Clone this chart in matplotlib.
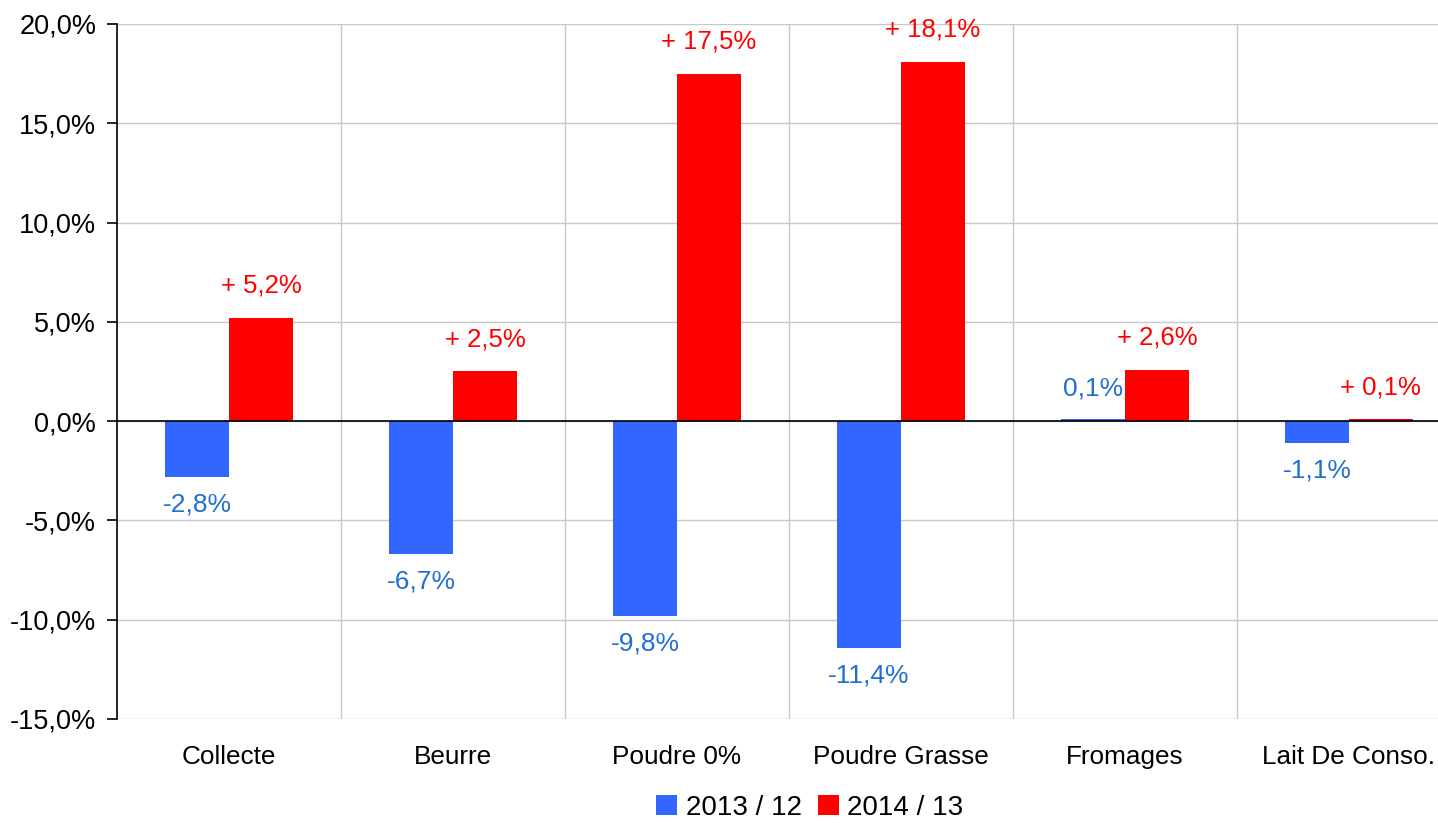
import numpy as np
import matplotlib
matplotlib.use('Agg')
from matplotlib import pyplot as plt
from matplotlib.ticker import FuncFormatter

plt.rcParams['font.family'] = ['Liberation Sans', 'DejaVu Sans']

# données
categories = ['Collecte', 'Beurre', 'Poudre 0%', 'Poudre Grasse', 'Fromages', 'Lait De Conso.']
serie_2013 = [-2.8, -6.7, -9.8, -11.4, 0.1, -1.1]
serie_2014 = [5.2, 2.5, 17.5, 18.1, 2.6, 0.1]
noms_series = ['2013 / 12', '2014 / 13']

bleu = '#3366FF'
rouge = '#FF0000'
bleu_txt = '#1F70D0'

fig = plt.figure(figsize=(14.38, 8.23), dpi=100)
ax = fig.add_axes([117 / 1438, 1 - 719 / 823, 1344 / 1438, 695 / 823])

x = np.arange(len(categories))
w = 0.285
b1 = ax.bar(x - w / 2, serie_2013, w, color=bleu, label=noms_series[0], zorder=3)
b2 = ax.bar(x + w / 2, serie_2014, w, color=rouge, label=noms_series[1], zorder=3)

def fmt(v):
    return ('%.1f' % v).replace('.', ',') + '%'

for xi, v in zip(x - w / 2, serie_2013):
    off = 22 if v >= 0 else -20
    ax.annotate(fmt(v), (xi, v), xytext=(0, off), textcoords='offset points',
                ha='center', va='center', color=bleu_txt, fontsize=19)
for xi, v in zip(x + w / 2, serie_2014):
    ax.annotate('+ ' + fmt(v), (xi, v), xytext=(0, 23), textcoords='offset points',
                ha='center', va='center', color=rouge, fontsize=18.5)

ax.set_xlim(-0.5, len(categories) - 0.5)
ax.set_ylim(-15, 20)
ax.set_yticks(np.arange(-15, 21, 5))
ax.yaxis.set_major_formatter(FuncFormatter(lambda v, p: ('%.1f' % v).replace('.', ',') + '%'))
ax.set_xticks(x)
ax.set_xticklabels(categories, fontsize=18.8)
ax.tick_params(axis='y', labelsize=19.5, length=7, width=1.2, direction='out', pad=8)
ax.tick_params(axis='x', length=0, pad=19)

ax.grid(axis='y', color='#C8C8C8', linewidth=1, zorder=0)
for xs in np.arange(0.5, len(categories) - 0.5, 1):
    ax.axvline(xs, color='#C8C8C8', linewidth=1, zorder=0)
ax.axhline(0, color='black', linewidth=1.2, zorder=4)

for s in ['top', 'right', 'bottom']:
    ax.spines[s].set_visible(False)
ax.spines['left'].set_linewidth(1.2)

fig.legend(handles=[b1, b2], loc='center', bbox_to_anchor=(810 / 1438, 1 - 808 / 823),
           ncol=2, frameon=False, fontsize=20, handlelength=0.75, handleheight=0.75,
           handletextpad=0.3, columnspacing=0.6)

fig.savefig('out.png', dpi=100)
